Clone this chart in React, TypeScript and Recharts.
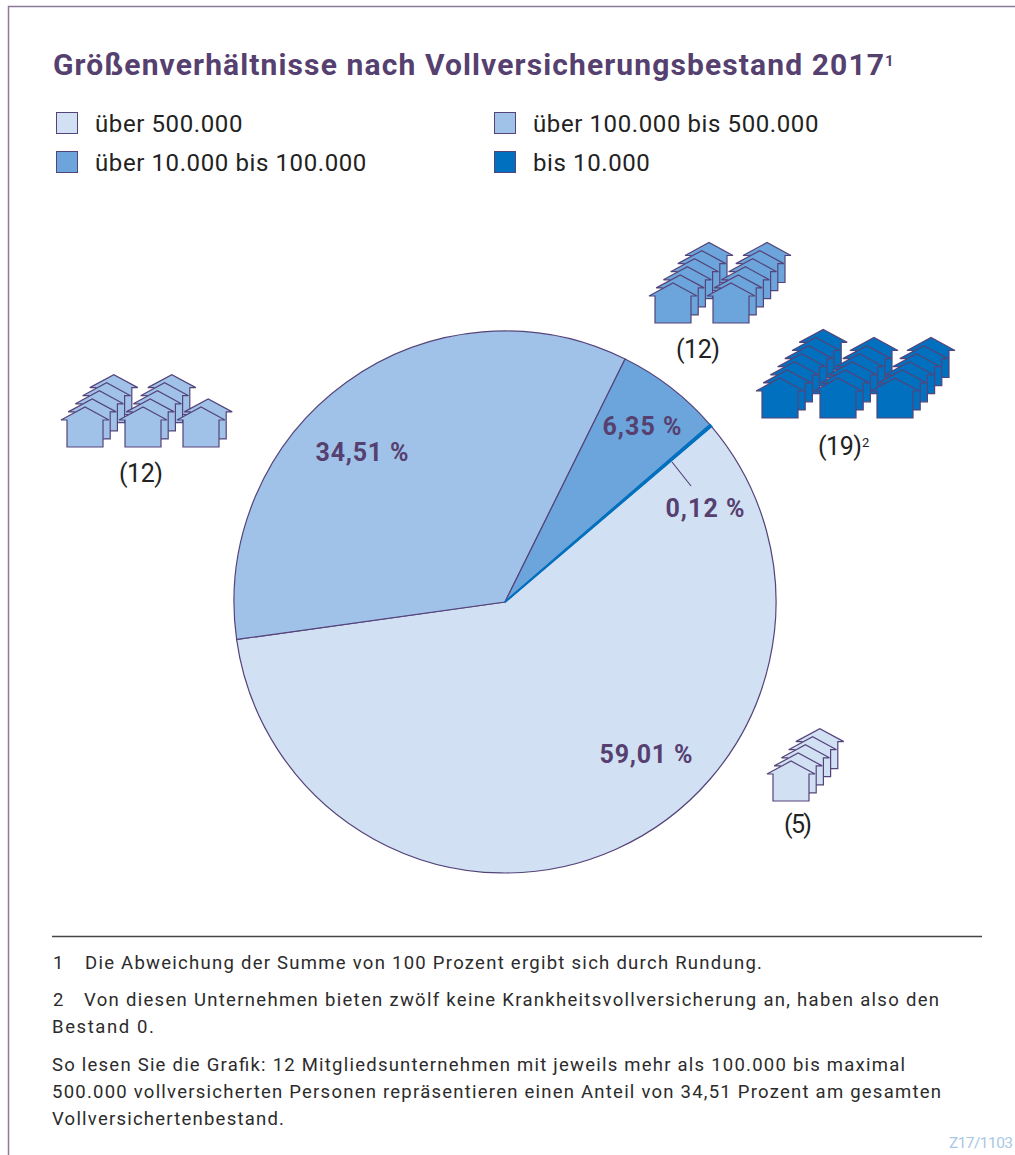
import React from 'react';
import { PieChart, Pie, Cell, Legend } from 'recharts';

const CATEGORIES = ['über 500.000', 'über 100.000 bis 500.000', 'über 10.000 bis 100.000', 'bis 10.000'];
const SHARES = [59.01, 34.51, 6.35, 0.12];
const COLORS = ['#d2e0f4', '#a1c2e8', '#6ca5dc', '#0070bf'];
const COMPANY_COUNTS = ['(5)', '(12)', '(12)', '(19)'];
// houses per stack, adds up to the company count
const HOUSE_STACKS = [[5], [5, 5, 2], [6, 6], [7, 6, 6]];

const INK = '#55406f';
const LINE = '#54447a';
const FONT = 'Roboto, sans-serif';

const data = CATEGORIES.map((name, i) => ({ name, share: SHARES[i] }));

const LABEL_POS = [
  { x: 646, y: 763, w: 93 },
  { x: 362, y: 461, w: 93 },
  { x: 642, y: 435, w: 79 },
  { x: 705, y: 517, w: 79 },
];

const STACK_ORIGIN = [
  [{ x: 773, y: 801 }],
  [{ x: 67, y: 447 }, { x: 125, y: 447 }, { x: 183, y: 447 }],
  [{ x: 655, y: 323 }, { x: 713, y: 323 }],
  [{ x: 762, y: 418 }, { x: 820, y: 418 }, { x: 877, y: 418 }],
];

const COUNT_POS = [
  { x: 798, y: 833, w: 28 },
  { x: 141, y: 482, w: 44 },
  { x: 698, y: 358, w: 44 },
  { x: 818, y: 455, w: 44, left: true },
];

const FOOTNOTES = [
  { t: '1', x: 53, y: 969, w: 0 },
  { t: 'Die Abweichung der Summe von 100 Prozent ergibt sich durch Rundung.', x: 85, y: 969, w: 677 },
  { t: '2', x: 53, y: 1006, w: 0 },
  { t: 'Von diesen Unternehmen bieten zwölf keine Krankheitsvollversicherung an, haben also den', x: 84, y: 1006, w: 855 },
  { t: 'Bestand 0.', x: 52, y: 1033, w: 102 },
  { t: 'So lesen Sie die Grafik: 12 Mitgliedsunternehmen mit jeweils mehr als 100.000 bis maximal', x: 52, y: 1071, w: 853 },
  { t: '500.000 vollversicherten Personen repräsentieren einen Anteil von 34,51 Prozent am gesamten', x: 52, y: 1098, w: 889 },
  { t: 'Vollversichertenbestand.', x: 52, y: 1125, w: 232 },
];

const House = ({ x, y, fill }: { x: number; y: number; fill: string }) => (
  <path
    d={`M${x} ${y}V${y - 27}H${x - 6}L${x + 18} ${y - 40}L${x + 42} ${y - 27}H${x + 36}V${y}Z`}
    fill={fill}
    stroke={LINE}
    strokeWidth={1.2}
  />
);

const renderValueLabel = (props: any) => {
  const pos = LABEL_POS[props.index];
  return (
    <text
      x={pos.x}
      y={pos.y}
      textAnchor="middle"
      textLength={pos.w}
      fontFamily={FONT}
      fontWeight={700}
      fontSize={25}
      fill={INK}
    >
      {SHARES[props.index].toFixed(2).replace('.', ',')} %
    </text>
  );
};

const renderLegend = (props: any) => (
  <div style={{ position: 'relative', width: 800, height: 70, fontFamily: FONT, fontSize: 24, letterSpacing: 0.6, color: '#222' }}>
    {props.payload.map((entry: any) => {
      const i = CATEGORIES.indexOf(entry.value);
      return (
        <div key={entry.value} style={{ position: 'absolute', left: i % 2 ? 438 : 0, top: i < 2 ? 0 : 39, height: 23, lineHeight: '24px', whiteSpace: 'nowrap' }}>
          <span style={{ position: 'absolute', left: 0, top: 0, width: 20, height: 20, background: COLORS[i], border: `1.5px solid ${LINE}` }} />
          <span style={{ position: 'absolute', left: 39, top: 0 }}>{entry.value}</span>
        </div>
      );
    })}
  </div>
);

export default function App() {
  return (
    <div style={{ position: 'absolute', left: 0, top: 0, width: 1015, height: 1155, overflow: 'hidden', background: '#fff' }}>
      <PieChart
        width={1015}
        height={1155}
        margin={{ top: 0, right: 0, bottom: 0, left: 0 }}
        style={{ position: 'absolute', left: 0, top: 0 }}
      >
        <Pie
          data={data}
          dataKey="share"
          nameKey="name"
          cx={505}
          cy={602}
          outerRadius={271}
          startAngle={40.4}
          endAngle={-319.6}
          stroke={LINE}
          strokeWidth={1.2}
          label={renderValueLabel}
          labelLine={false}
          isAnimationActive={false}
        >
          {data.map((entry, index) => (
            <Cell
              key={entry.name}
              fill={COLORS[index]}
              stroke={index === 3 ? COLORS[3] : LINE}
              strokeWidth={index === 3 ? 2 : 1.2}
            />
          ))}
        </Pie>
        <Legend
          content={renderLegend}
          itemSorter={null}
          layout="horizontal"
          wrapperStyle={{ position: 'absolute', left: 56, top: 112, width: 800, height: 70, bottom: 'auto' }}
        />
      </PieChart>

      <svg width={1015} height={1155} style={{ position: 'absolute', left: 0, top: 0, pointerEvents: 'none' }}>
        <path d="M8.5 1155V6.5H1015" fill="none" stroke="#8a7a9c" strokeWidth={1.5} />

        <text x={53} y={75} textLength={831} fontFamily={FONT} fontWeight={700} fontSize={30} fill={INK}>
          Größenverhältnisse nach Vollversicherungsbestand 2017
        </text>
        <text x={885} y={66} fontFamily={FONT} fontWeight={700} fontSize={15} fill={INK}>1</text>

        <line x1={672} y1={462} x2={691} y2={486} stroke={LINE} strokeWidth={1.2} />

        {HOUSE_STACKS.map((stacks, g) =>
          stacks.map((count, s) =>
            Array.from({ length: count }, (_, k) => count - 1 - k).map((step) => (
              <House
                key={`${g}-${s}-${step}`}
                x={STACK_ORIGIN[g][s].x + step * 7.2}
                y={STACK_ORIGIN[g][s].y - step * 8.1}
                fill={COLORS[g]}
              />
            ))
          )
        )}

        {COUNT_POS.map((c, i) => (
          <text
            key={i}
            x={c.x}
            y={c.y}
            textAnchor={c.left ? 'start' : 'middle'}
            textLength={c.w}
            fontFamily={FONT}
            fontSize={25}
            fill="#222"
          >
            {COMPANY_COUNTS[i]}
          </text>
        ))}
        <text x={862} y={447} fontFamily={FONT} fontSize={13} fill="#222">2</text>

        <line x1={52} y1={936.5} x2={982} y2={936.5} stroke="#444" strokeWidth={1.6} />
        {FOOTNOTES.map((f) => (
          <text
            key={f.t}
            x={f.x}
            y={f.y}
            textLength={f.w || undefined}
            fontFamily={FONT}
            fontSize={18.5}
            fill="#2b2b2b"
          >
            {f.t}
          </text>
        ))}
        <text x={949} y={1148} textLength={64} fontFamily={FONT} fontSize={15.5} fill="#a9c7e6">Z17/1103</text>
      </svg>
    </div>
  );
}
